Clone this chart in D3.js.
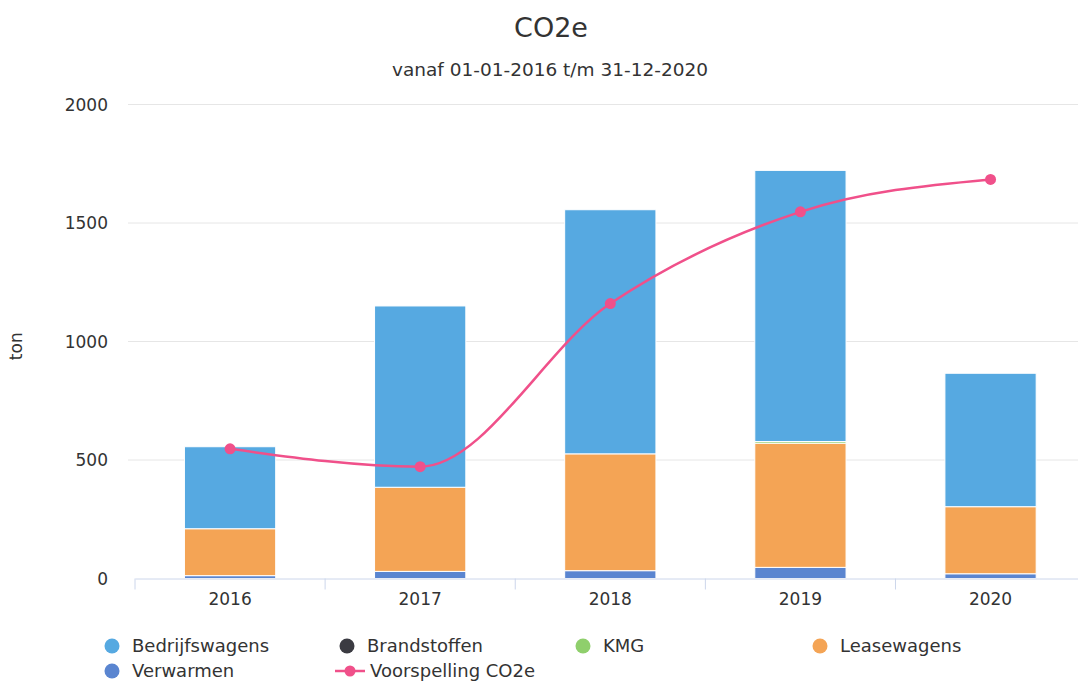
<!DOCTYPE html>
<html>
<head>
<meta charset="utf-8">
<script src="https://cdn.jsdelivr.net/npm/d3@7"></script>
<style>
  body { margin: 0; background: #fff; }
  text { font-family: "DejaVu Sans", sans-serif; fill: #333; }
</style>
</head>
<body>
<div id="chart"></div>
<script>
const years = ["2016", "2017", "2018", "2019", "2020"];
const verwarmen = [12, 30, 33, 47, 20];
const leasewagens = [198, 355, 493, 524, 283];
const kmg = [0, 0, 0, 7, 0];
const brandstoffen = [0, 0, 0, 0, 0];
const bedrijfswagens = [346, 765, 1030, 1144, 563];
const voorspelling = [547, 472, 1160, 1547, 1684];
const yTicks = [0, 500, 1000, 1500, 2000];

const width = 1078, height = 684;
const margin = { top: 104.5, bottom: 105.5, left: 135 };
const plotRight = 1085.6;

const svg = d3.select("#chart").append("svg")
              .attr("width", width)
              .attr("height", height);

// stack order: first series on the bottom
const series = [
  { name: "Verwarmen", values: verwarmen, color: "#5a85d0" },
  { name: "Leasewagens", values: leasewagens, color: "#f4a455" },
  { name: "KMG", values: kmg, color: "#8fcf6c" },
  { name: "Brandstoffen", values: brandstoffen, color: "#3b3b42" },
  { name: "Bedrijfswagens", values: bedrijfswagens, color: "#56a9e1" }
];

const table = years.map((y, i) => {
  const row = { year: y };
  series.forEach(s => row[s.name] = s.values[i]);
  return row;
});

const stacked = d3.stack().keys(series.map(s => s.name))(table);

const x = d3.scaleBand()
            .domain(years)
            .range([margin.left, plotRight]);

const y = d3.scaleLinear()
            .domain([0, 2000])
            .range([height - margin.bottom, margin.top]);

// gridlines
svg.append("g")
   .selectAll("line")
   .data(yTicks.slice(1))
   .enter()
   .append("line")
   .attr("x1", 128)
   .attr("x2", width)
   .attr("y1", d => y(d))
   .attr("y2", d => y(d))
   .attr("stroke", "#e6e6e6")
   .attr("stroke-width", 1);

// y labels
svg.append("g")
   .selectAll("text")
   .data(yTicks)
   .enter()
   .append("text")
   .attr("x", 108)
   .attr("y", d => y(d) + 6)
   .attr("text-anchor", "end")
   .style("font-size", "17px")
   .text(d => d);

// bars
const barW = x.bandwidth() * 0.48;
svg.append("g")
   .selectAll("g")
   .data(stacked)
   .enter()
   .append("g")
   .attr("fill", (d, i) => series[i].color)
   .selectAll("rect")
   .data(d => d)
   .enter()
   .append("rect")
   .attr("x", d => x(d.data.year) + (x.bandwidth() - barW) / 2)
   .attr("y", d => y(d[1]))
   .attr("width", barW)
   .attr("height", d => Math.max(0, y(d[0]) - y(d[1])))
   .attr("stroke", "#fff")
   .attr("stroke-width", d => d[1] - d[0] > 0 ? 1 : 0);

// x axis
const xAxis = svg.append("g")
   .attr("transform", `translate(0, ${y(0)})`)
   .call(d3.axisBottom(x).tickSize(0).tickPadding(14));
xAxis.select(".domain").attr("stroke", "#ccd6eb");
xAxis.selectAll("text").style("font-size", "17px").attr("fill", "#333");
svg.append("g")
   .selectAll("line")
   .data(years.concat(["end"]))
   .enter()
   .append("line")
   .attr("x1", (d, i) => margin.left + i * x.step())
   .attr("x2", (d, i) => margin.left + i * x.step())
   .attr("y1", y(0))
   .attr("y2", y(0) + 11)
   .attr("stroke", "#ccd6eb");

// forecast line
const line = d3.line()
               .x((d, i) => x(years[i]) + x.bandwidth() / 2)
               .y(d => y(d))
               .curve(d3.curveMonotoneX);

svg.append("path")
   .datum(voorspelling)
   .attr("d", line)
   .attr("fill", "none")
   .attr("stroke", "#f0508a")
   .attr("stroke-width", 2.5);

svg.append("g")
   .selectAll("circle")
   .data(voorspelling)
   .enter()
   .append("circle")
   .attr("cx", (d, i) => x(years[i]) + x.bandwidth() / 2)
   .attr("cy", d => y(d))
   .attr("r", 5.5)
   .attr("fill", "#f0508a");

// titles
svg.append("text")
   .attr("x", 551)
   .attr("y", 37)
   .attr("text-anchor", "middle")
   .style("font-size", "27px")
   .attr("fill", "#222")
   .text("CO2e");

svg.append("text")
   .attr("x", 550)
   .attr("y", 76)
   .attr("text-anchor", "middle")
   .style("font-size", "18.5px")
   .text("vanaf 01-01-2016 t/m 31-12-2020");

svg.append("text")
   .attr("transform", `translate(22, ${y(980)}) rotate(-90)`)
   .attr("text-anchor", "middle")
   .style("font-size", "17px")
   .text("ton");

// legend
const legendItems = [
  { name: "Bedrijfswagens", color: "#56a9e1", x: 112, y: 646 },
  { name: "Brandstoffen", color: "#3b3b42", x: 347, y: 646 },
  { name: "KMG", color: "#8fcf6c", x: 583, y: 646 },
  { name: "Leasewagens", color: "#f4a455", x: 820, y: 646 },
  { name: "Verwarmen", color: "#5a85d0", x: 112, y: 671 },
  { name: "Voorspelling CO2e", color: "#f0508a", x: 350, y: 671, line: true }
];

const leg = svg.append("g")
   .selectAll("g")
   .data(legendItems)
   .enter()
   .append("g")
   .attr("transform", d => `translate(${d.x}, ${d.y})`);

leg.filter(d => d.line)
   .append("line")
   .attr("x1", -15)
   .attr("x2", 15)
   .attr("stroke", d => d.color)
   .attr("stroke-width", 2.5);

leg.append("circle")
   .attr("r", d => d.line ? 5.5 : 7.5)
   .attr("fill", d => d.color);

leg.append("text")
   .attr("x", 20)
   .attr("y", 6)
   .style("font-size", "18px")
   .attr("fill", "#222")
   .text(d => d.name);
</script>
</body>
</html>
